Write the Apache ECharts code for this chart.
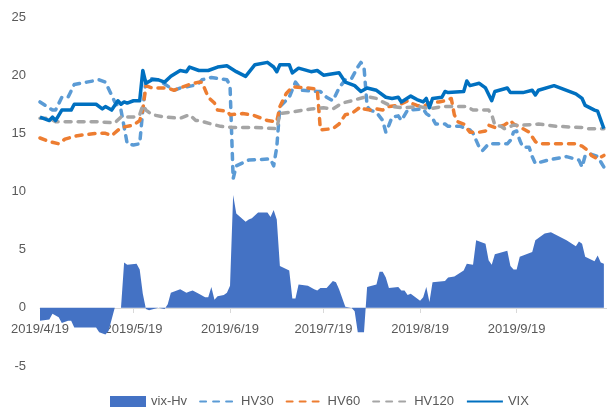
<!DOCTYPE html>
<html>
<head>
<meta charset="utf-8">
<script src="https://cdn.jsdelivr.net/npm/echarts@6/dist/echarts.min.js"></script>
<style>
html,body{margin:0;padding:0;background:#fff;}
#chart{width:607px;height:412px;}
</style>
</head>
<body>
<div id="chart"></div>
<script>
// x values are days counted from 2019/4/19
const tickDays = [0, 30, 61, 91, 122, 153];
const tickLabels = ['2019/4/19', '2019/5/19', '2019/6/19', '2019/7/19', '2019/8/19', '2019/9/19'];

const spreadDays = [0,3,4,6,7,9,10,11,18,19,21,22,24,26,27,28,31,32,33,34,35,38,40,41,42,45,47,48,49,51,53,54,55,56,57,59,60,61,62,63,66,67,68,70,73,74,75,76,77,80,81,82,83,86,88,89,90,92,94,95,96,98,100,101,102,104,105,108,109,110,111,112,115,116,117,118,119,122,123,124,125,126,130,131,133,136,137,139,140,143,144,145,146,150,151,152,153,154,158,159,162,164,169,172,173,174,175,178,179,180,181];
const spreadVals = [-1.1,-1.0,-0.5,-0.8,-1.3,-1.1,-1.1,-1.7,-1.7,-2.1,-2.3,-2.0,0.0,0.0,3.9,3.7,3.8,3.3,1.2,-0.1,-0.2,0.0,-0.1,0.3,1.3,1.6,1.3,1.4,1.5,1.2,0.9,0.9,1.8,0.7,1.0,1.1,1.3,1.9,9.7,8.1,7.4,7.6,7.7,8.2,8.2,7.8,8.4,7.6,3.6,3.2,0.8,0.8,2.0,1.9,1.6,1.5,1.7,1.7,2.3,2.2,1.6,0.1,0.0,-0.3,-2.1,-2.1,1.8,2.0,3.1,3.1,2.6,1.7,1.8,1.5,1.5,1.1,1.2,0.6,0.9,1.8,0.5,2.2,2.3,2.6,2.7,3.2,3.8,3.7,5.8,5.5,4.1,3.7,4.6,4.9,3.6,3.3,3.3,4.4,4.8,5.8,6.4,6.5,5.8,5.3,5.7,5.5,4.4,4.0,4.5,3.9,3.8];

const hv30Days = [0,4,5,7,9,11,15,19,21,24,26,28,30,32,33,34,36,38,43,45,49,51,52,55,60,61,62,63,67,74,75,76,77,80,82,84,89,90,92,94,96,98,100,102,103,104,105,106,108,110,111,112,113,115,116,118,123,124,126,127,130,131,135,138,139,141,142,144,150,151,152,153,154,155,157,158,159,163,169,173,174,175,177,179,181];
const hv30Vals = [17.7,17.0,17.0,18.1,18.1,19.2,19.4,19.6,19.4,17.7,17.0,14.1,14.0,14.1,17.0,19.6,19.7,19.6,18.7,18.9,19.1,19.3,19.6,19.8,19.6,19.1,11.1,12.2,12.7,12.8,12.2,13.8,17.3,18.1,19.4,18.7,18.6,18.6,18.1,17.8,18.9,19.6,19.7,20.7,21.1,20.7,17.3,17.0,16.8,16.1,15.1,15.7,16.4,16.5,16.1,17.0,17.1,16.7,16.3,15.8,15.8,15.6,15.6,15.3,15.0,13.8,13.5,14.1,14.1,14.4,15.1,15.2,14.4,13.8,13.8,13.0,12.4,12.7,13.0,12.7,12.1,13.1,13.2,13.0,12.1];

const hv60Days = [0,3,6,8,12,18,21,23,26,30,32,33,34,36,41,43,45,48,51,52,54,56,57,60,61,65,68,71,73,76,77,79,81,86,89,90,94,96,98,100,103,104,106,108,110,112,115,118,119,121,123,125,128,130,132,133,134,136,138,141,143,144,146,149,151,152,155,157,159,160,172,174,176,177,179,181];
const hv60Vals = [14.6,14.3,14.1,14.5,14.8,15.0,15.0,14.8,15.5,15.7,16.1,17.0,19.1,18.9,18.9,18.7,18.9,19.2,19.4,19.4,18.1,17.6,17.0,16.9,16.6,16.7,16.6,16.3,16.1,16.0,17.3,18.4,19.0,18.9,18.8,15.3,15.4,15.8,16.6,16.7,17.3,17.1,17.0,17.1,17.0,17.3,17.4,17.8,17.6,17.4,17.3,17.6,17.7,17.8,18.0,16.6,16.0,15.8,15.1,15.1,15.2,15.7,15.5,15.7,16.1,15.8,15.4,15.1,14.3,14.1,14.1,13.9,13.5,13.1,12.8,13.1];

const hv120Days = [0,3,5,9,18,24,26,30,32,33,34,36,40,45,48,50,51,55,58,62,69,76,77,80,87,91,94,97,100,104,106,108,110,113,116,122,125,129,137,139,144,145,146,148,149,152,155,160,166,174,176,181];
const hv120Vals = [16.3,16.3,16.0,16.0,16.0,15.9,16.4,16.4,16.6,17.4,17.0,16.6,16.4,16.3,16.6,16.1,16.1,15.8,15.6,15.5,15.5,15.4,16.7,16.8,17.1,17.2,17.1,17.6,17.8,18.1,18.1,18.0,17.7,17.3,17.2,17.3,17.1,17.3,17.3,17.0,17.0,16.6,15.7,15.6,15.4,15.7,15.7,15.8,15.6,15.5,15.4,15.4];

const vixDays = [0,3,4,5,7,10,11,18,20,21,23,25,26,27,28,30,32,33,34,36,38,40,42,45,47,48,51,54,57,60,63,66,69,73,75,76,77,80,81,83,87,89,91,96,98,101,103,105,108,111,113,115,116,119,121,123,124,125,126,129,130,131,136,137,138,141,143,145,146,150,151,155,158,159,160,165,172,174,175,178,179,181];
const vixVals = [16.4,16.1,16.4,16.1,17.0,17.0,17.5,17.5,17.1,17.3,17.0,17.8,17.5,17.7,17.6,17.8,17.8,20.4,19.3,19.6,19.6,19.4,19.9,20.4,20.3,20.7,20.4,20.4,20.7,20.8,20.3,19.9,20.9,21.1,20.7,20.3,20.9,20.9,20.2,20.6,20.3,20.4,20.0,20.2,19.4,19.1,18.6,18.9,18.7,18.1,18.0,18.1,17.7,18.2,17.9,17.7,18.0,17.2,18.0,18.1,18.6,18.5,18.6,19.5,19.1,19.3,18.9,17.8,18.6,18.9,18.5,18.5,18.7,18.3,18.7,19.1,18.4,18.0,17.4,17.0,16.9,15.4];

const seriesNames = ['vix-Hv', 'HV30', 'HV60', 'HV120', 'VIX'];
const seriesColors = ['#4472C4', '#5B9BD5', '#ED7D31', '#A5A5A5', '#0070C0'];

function zip(xs, ys) { return xs.map((x, i) => [x, ys[i]]); }

const FONT = '"Liberation Sans", Arial, sans-serif';
function dashed(color) {
  return { color: color, width: 3.5, type: [6, 7], cap: 'round', join: 'round' };
}

const chart = echarts.init(document.getElementById('chart'), null, { renderer: 'canvas' });
chart.setOption({
  animation: false,
  backgroundColor: '#ffffff',
  grid: { left: 40, right: 0, top: 17, bottom: 46, containLabel: false },
  legend: {
    left: 105, top: 390,
    itemWidth: 36, itemHeight: 11, itemGap: 12,
    textStyle: { color: '#595959', fontSize: 13, fontFamily: FONT },
    data: [
      { name: seriesNames[0], icon: 'rect' },
      { name: seriesNames[1], itemStyle: { opacity: 0 } },
      { name: seriesNames[2], itemStyle: { opacity: 0 } },
      { name: seriesNames[3], itemStyle: { opacity: 0 } },
      { name: seriesNames[4], itemStyle: { opacity: 0 } }
    ]
  },
  xAxis: {
    type: 'value', min: 0, max: 182, position: 'bottom', offset: -58,
    axisLine: { onZero: false, lineStyle: { color: '#D9D9D9', width: 1 } },
    axisTick: { show: true, length: 5, customValues: tickDays, lineStyle: { color: '#D9D9D9' } },
    axisLabel: {
      customValues: tickDays, margin: 15,
      color: '#595959', fontSize: 13, fontFamily: FONT,
      formatter: v => tickLabels[tickDays.indexOf(v)] || ''
    },
    splitLine: { show: false }
  },
  yAxis: {
    type: 'value', min: -5, max: 25, interval: 5,
    axisLine: { show: false }, axisTick: { show: false },
    axisLabel: { color: '#595959', fontSize: 13, fontFamily: FONT, margin: 14 },
    splitLine: { show: false }
  },
  series: [
    {
      name: seriesNames[0], type: 'line', data: zip(spreadDays, spreadVals),
      symbol: 'none', color: seriesColors[0],
      lineStyle: { width: 0 }, areaStyle: { color: seriesColors[0], opacity: 1 }, z: 1
    },
    { name: seriesNames[1], type: 'line', data: zip(hv30Days, hv30Vals), symbol: 'none', color: seriesColors[1], lineStyle: dashed(seriesColors[1]), z: 2 },
    { name: seriesNames[2], type: 'line', data: zip(hv60Days, hv60Vals), symbol: 'none', color: seriesColors[2], lineStyle: dashed(seriesColors[2]), z: 3 },
    { name: seriesNames[3], type: 'line', data: zip(hv120Days, hv120Vals), symbol: 'none', color: seriesColors[3], lineStyle: dashed(seriesColors[3]), z: 4 },
    {
      name: seriesNames[4], type: 'line', data: zip(vixDays, vixVals),
      symbol: 'none', color: seriesColors[4], lineStyle: { color: seriesColors[4], width: 3.5, join: 'round' }, z: 5
    }
  ]
});
</script>
</body>
</html>
